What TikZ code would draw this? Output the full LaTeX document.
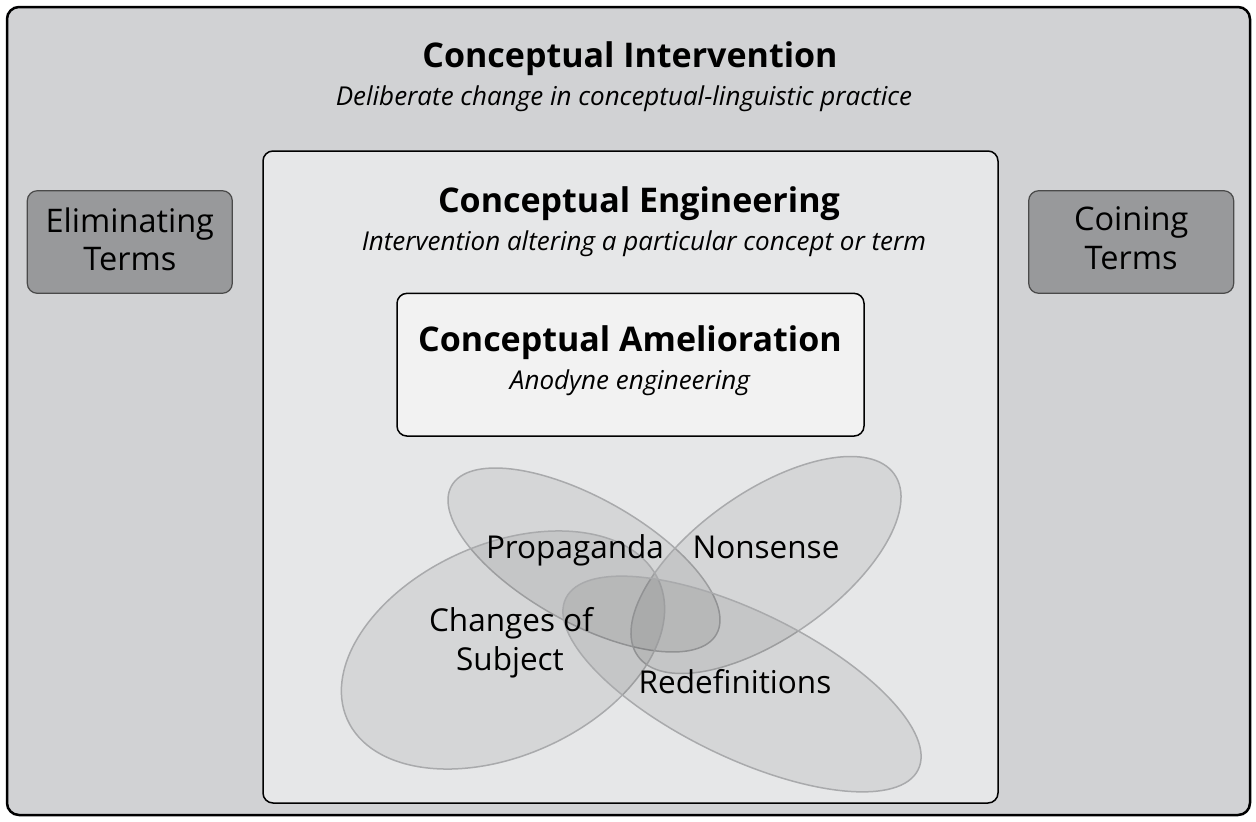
\documentclass[tikz,border=0pt]{standalone}
\usepackage{fontspec}
\setmainfont{Open Sans}
\usetikzlibrary{shapes.geometric}
\definecolor{outerfill}{HTML}{D1D2D4}
\definecolor{sidefill}{HTML}{98999B}
\definecolor{midfill}{HTML}{E6E7E8}
\definecolor{amelfill}{HTML}{F2F2F2}
\definecolor{sideline}{HTML}{4A4A4A}
\definecolor{ellline}{HTML}{A9AAAC}
\begin{document}
\begin{tikzpicture}[x=1pt,y=-1pt,
  panel/.style={draw=black, rectangle, inner sep=0pt, outer sep=0pt},
  sidebox/.style={panel, draw=sideline, line width=1.2pt, fill=sidefill, rounded corners=10pt, minimum width=205pt, minimum height=102.6pt},
  title/.style={anchor=base, font=\fontsize{34}{40}\selectfont\bfseries, inner sep=0pt},
  sub/.style={anchor=base, font=\fontsize{26}{31}\selectfont\itshape, inner sep=0pt},
  lab/.style={anchor=base, font=\fontsize{32.5}{38}\selectfont, inner sep=0pt},
  elab/.style={anchor=base, font=\fontsize{31.5}{37}\selectfont, inner sep=0pt},
  blob/.style={ellipse, draw=ellline, line width=1.5pt, fill=black, fill opacity=0.07, draw opacity=1, inner sep=0pt},
]
\useasboundingbox[fill=white] (0,0) rectangle (1256,822);
% outer panel
\node[panel, line width=2.5pt, fill=outerfill, rounded corners=12pt, minimum width=1243pt, minimum height=808pt] (outer) at (628.5,411) {};
\node[title] (ciT) at (630,67.3) {Conceptual Intervention};
\node[sub] (ciS) at (624,105) {Deliberate change in conceptual-linguistic practice};
% side boxes
\node[sidebox] (elim) at (129.8,242) {};
\node[lab] (elimA) at (129.8,232.7) {Eliminating};
\node[lab] (elimB) at (129.8,270) {Terms};
\node[sidebox] (coin) at (1131.2,242) {};
\node[lab] (coinA) at (1131.2,230.7) {Coining};
\node[lab] (coinB) at (1131.2,269.3) {Terms};
% middle panel
\node[panel, line width=1.5pt, fill=midfill, rounded corners=10pt, minimum width=735pt, minimum height=652pt] (mid) at (630.5,477) {};
\node[title] (ceT) at (639,212) {Conceptual Engineering};
\node[sub] (ceS) at (644,250) {Intervention altering a particular concept or term};
% amelioration
\node[panel, line width=1.5pt, fill=amelfill, rounded corners=10pt, minimum width=467pt, minimum height=142.7pt] (amel) at (630.5,364.7) {};
\node[title] (caT) at (630,351.7) {Conceptual Amelioration};
\node[sub] (caS) at (630,389) {Anodyne engineering};
% ellipses
\node[blob, minimum width=303.6pt, minimum height=125pt, rotate=-29.2] (propE) at (584,560) {};
\node[blob, minimum width=314.4pt, minimum height=145.4pt, rotate=35.3] (nonsE) at (766,565) {};
\node[blob, minimum width=341pt, minimum height=211.8pt, rotate=24] (chgE) at (503,650) {};
\node[blob, minimum width=391.8pt, minimum height=146pt, rotate=-25.9] (redefE) at (742,684) {};
\node[elab] (propL) at (575,558) {Propaganda};
\node[elab] (nonsL) at (766,558) {Nonsense};
\node[elab] (chgA) at (511,631.7) {Changes of};
\node[elab] (chgB) at (510,670) {Subject};
\node[elab] (redefL) at (735,693.3) {Redefinitions};
\end{tikzpicture}
\end{document}
